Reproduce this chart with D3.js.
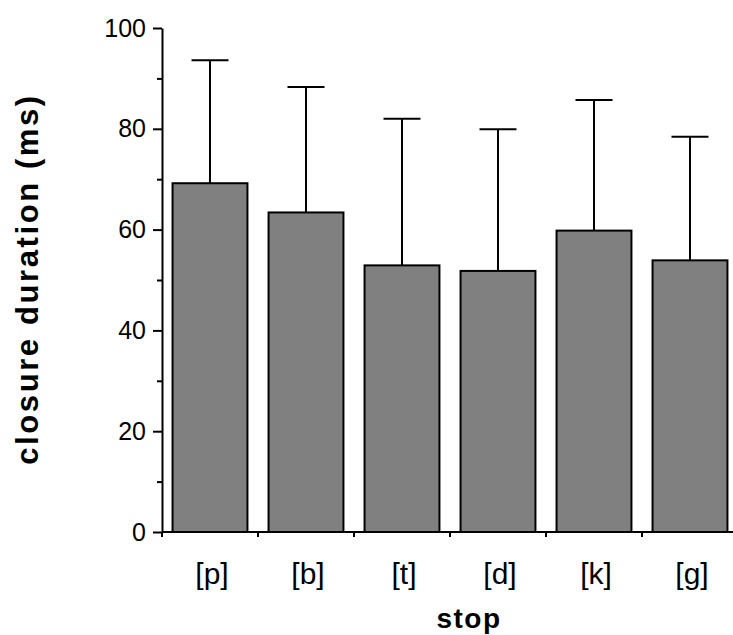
<!DOCTYPE html>
<html>
<head>
<meta charset="utf-8">
<script src="https://cdn.jsdelivr.net/npm/d3@7"></script>
<style>
  html, body { margin: 0; padding: 0; background: #fff; }
  svg { display: block; font-family: "Liberation Sans", Arial, sans-serif; }
</style>
</head>
<body>
<div id="chart"></div>
<script>
const categories = ['[p]', '[b]', '[t]', '[d]', '[k]', '[g]'];
const means = [69.2, 63.4, 52.9, 51.8, 59.8, 53.9];
const upper = [93.6, 88.3, 82.0, 79.9, 85.7, 78.4];
const majorTicks = [0, 20, 40, 60, 80, 100];
const minorTicks = [10, 30, 50, 70, 90];

const W = 733, H = 635;
const svg = d3.select('#chart').append('svg').attr('width', W).attr('height', H);

// plot area
const x0 = 162, x1 = 738, yTop = 28, yBot = 532;

const x = d3.scaleBand().domain(categories).range([x0, x1]).paddingInner(0.22).paddingOuter(0.11);
const y = d3.scaleLinear().domain([0, 100]).range([yBot, yTop]);

// bars
svg.selectAll('rect.bar')
  .data(categories)
  .enter().append('rect')
  .attr('class', 'bar')
  .attr('x', d => x(d))
  .attr('y', (d, i) => y(means[i]))
  .attr('width', x.bandwidth())
  .attr('height', (d, i) => y(0) - y(means[i]))
  .attr('fill', '#808080')
  .attr('stroke', '#000')
  .attr('stroke-width', 2);

// error bars (upper only)
const capW = 37;
const err = svg.append('g').attr('stroke', '#000').attr('stroke-width', 2);
categories.forEach((c, i) => {
  const cx = x(c) + x.bandwidth() / 2;
  err.append('line').attr('x1', cx).attr('x2', cx).attr('y1', y(means[i])).attr('y2', y(upper[i]));
  err.append('line').attr('x1', cx - capW / 2).attr('x2', cx + capW / 2).attr('y1', y(upper[i])).attr('y2', y(upper[i]));
});

// y axis
const yAxis = svg.append('g').attr('transform', `translate(${x0},0)`)
  .call(d3.axisLeft(y).tickValues(majorTicks).tickSize(9).tickPadding(7).tickSizeOuter(0));
yAxis.select('.domain').attr('stroke-width', 2);
yAxis.selectAll('.tick line').attr('stroke-width', 2);
yAxis.selectAll('.tick text').attr('font-size', 25).attr('fill', '#000')
  .attr('font-family', '"Liberation Sans", Arial, sans-serif');
const yMinor = svg.append('g').attr('transform', `translate(${x0},0)`)
  .call(d3.axisLeft(y).tickValues(minorTicks).tickSize(5).tickFormat(''));
yMinor.select('.domain').remove();
yMinor.selectAll('.tick line').attr('stroke-width', 2);

// x axis: line with small ticks at category boundaries
const bounds = d3.range(categories.length).map(i => x0 + i * x.step());
const xAxis = svg.append('g');
xAxis.append('line').attr('x1', x0).attr('x2', W).attr('y1', yBot).attr('y2', yBot)
  .attr('stroke', '#000').attr('stroke-width', 2);
xAxis.selectAll('line.bt').data(bounds).enter().append('line')
  .attr('class', 'bt')
  .attr('x1', d => d).attr('x2', d => d)
  .attr('y1', yBot).attr('y2', yBot + 5)
  .attr('stroke', '#000').attr('stroke-width', 2);
xAxis.selectAll('text').data(categories).enter().append('text')
  .attr('x', d => x(d) + x.bandwidth() / 2 + 2)
  .attr('y', 584)
  .attr('text-anchor', 'middle')
  .attr('font-size', 30)
  .text(d => d);

// titles
svg.append('text')
  .attr('x', 469).attr('y', 628)
  .attr('text-anchor', 'middle')
  .attr('font-size', 28).attr('font-weight', 'bold')
  .attr('letter-spacing', 1.5)
  .text('stop');
svg.append('text')
  .attr('transform', 'translate(38,279) rotate(-90)')
  .attr('text-anchor', 'middle')
  .attr('font-size', 31).attr('font-weight', 'bold')
  .attr('letter-spacing', 2.6)
  .text('closure duration (ms)');
</script>
</body>
</html>
